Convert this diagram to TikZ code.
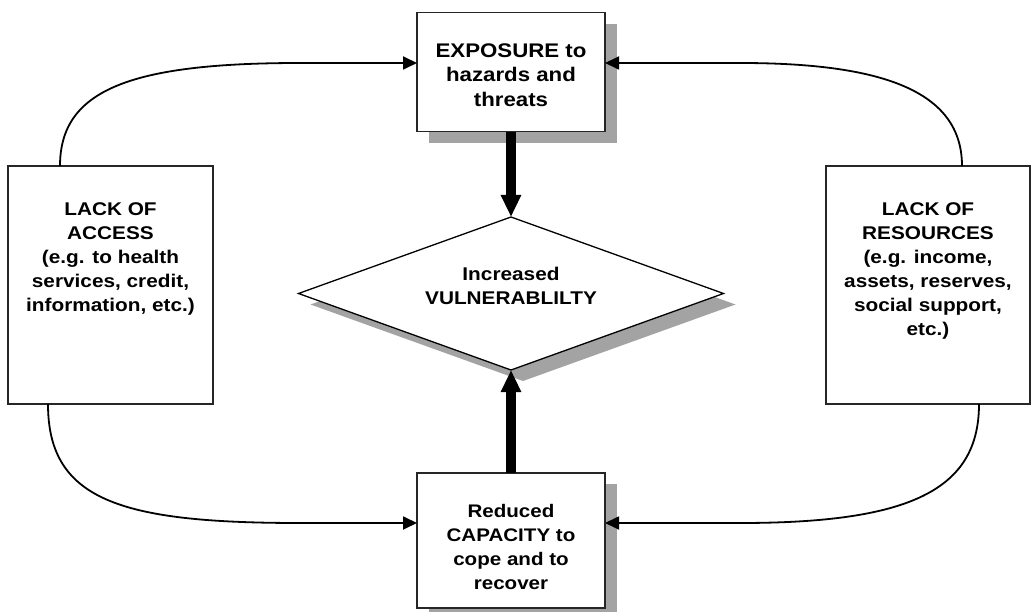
\documentclass[tikz,border=0pt]{standalone}
\usepackage{fontspec}
\setmainfont{Liberation Sans}[FakeStretch=1.13]
\usetikzlibrary{arrows.meta,shadows,shapes.geometric}

\definecolor{shade}{RGB}{163,163,163}
% invisible rules used to push multi-line labels up or down inside their boxes
\newcommand\topstrut[1]{\rule{0pt}{#1}}
\newcommand\botstrut[1]{\rule[-#1]{0pt}{#1}}

\begin{document}
\begin{tikzpicture}[x=1pt,y=-1pt,
  panel/.style={rectangle, draw=black!85, line width=1.1pt, fill=white,
    inner sep=0pt, outer sep=0pt, align=center,
    font=\bfseries\fontsize{18.4pt}{24pt}\selectfont},
  sidepanel/.style={panel, minimum width=205pt, minimum height=238pt},
  midpanel/.style={panel, minimum width=188pt},
  shadowed/.style={drop shadow={shadow xshift=12pt, shadow yshift=-11pt,
    fill=shade, opacity=1}},
  link/.style={line width=1.8pt, -{Triangle[length=14pt,width=13pt]}},
  bigarrow/.style={line width=9.5pt, -{Triangle[length=22pt,width=19pt]}}]

\useasboundingbox (0,0) rectangle (1033,612);

% central column
\node[midpanel, shadowed, minimum height=119pt,
  font=\bfseries\fontsize{19.7pt}{24.3pt}\selectfont] (expo) at (511,72.4)
  {\topstrut{19pt}EXPOSURE to\\hazards and\\threats};

\node[diamond, aspect=2.78, draw=black, line width=1.3pt, fill=white, shadowed,
  minimum width=425pt, minimum height=153pt, inner sep=0pt, outer sep=0pt,
  align=center, font=\bfseries\fontsize{18.4pt}{24pt}\selectfont] (vuln) at (511,293.5)
  {Increased\\VULNERABLILTY\botstrut{16pt}};

\node[midpanel, shadowed, minimum height=135pt,
  font=\bfseries\fontsize{18.2pt}{24pt}\selectfont] (cap) at (511,540.5)
  {\topstrut{27pt}Reduced\\CAPACITY to\\cope and to\\recover};

% side boxes
\node[sidepanel] (access) at (110.5,285)
  {LACK OF\\ACCESS\\(e.g. to health\\services, credit,\\information, etc.)\botstrut{55pt}};

\node[sidepanel, minimum width=204pt] (res) at (928,285)
  {LACK OF\\RESOURCES\\(e.g. income,\\assets, reserves,\\social support,\\etc.)\botstrut{31pt}};

% curved connectors from the side boxes
\draw[link] ([xshift=-50.5pt]access.north) .. controls (60,90) and (130,63) .. (300,63)
  -- ([yshift=9.4pt]expo.west);
\draw[link] ([xshift=34pt]res.north) .. controls (962,90) and (880,63) .. (740,63)
  -- ([yshift=9.4pt]expo.east);
\draw[link] ([xshift=-62.5pt]access.south) .. controls (48,500) and (120,523) .. (300,523)
  -- ([yshift=17.5pt]cap.west);
\draw[link] ([xshift=51pt]res.south) .. controls (979,490) and (910,523) .. (740,523)
  -- ([yshift=17.5pt]cap.east);

% heavy arrows into the diamond
\draw[bigarrow] (expo.south) -- (vuln.north);
\draw[bigarrow] (cap.north) -- (vuln.south);
\end{tikzpicture}
\end{document}
